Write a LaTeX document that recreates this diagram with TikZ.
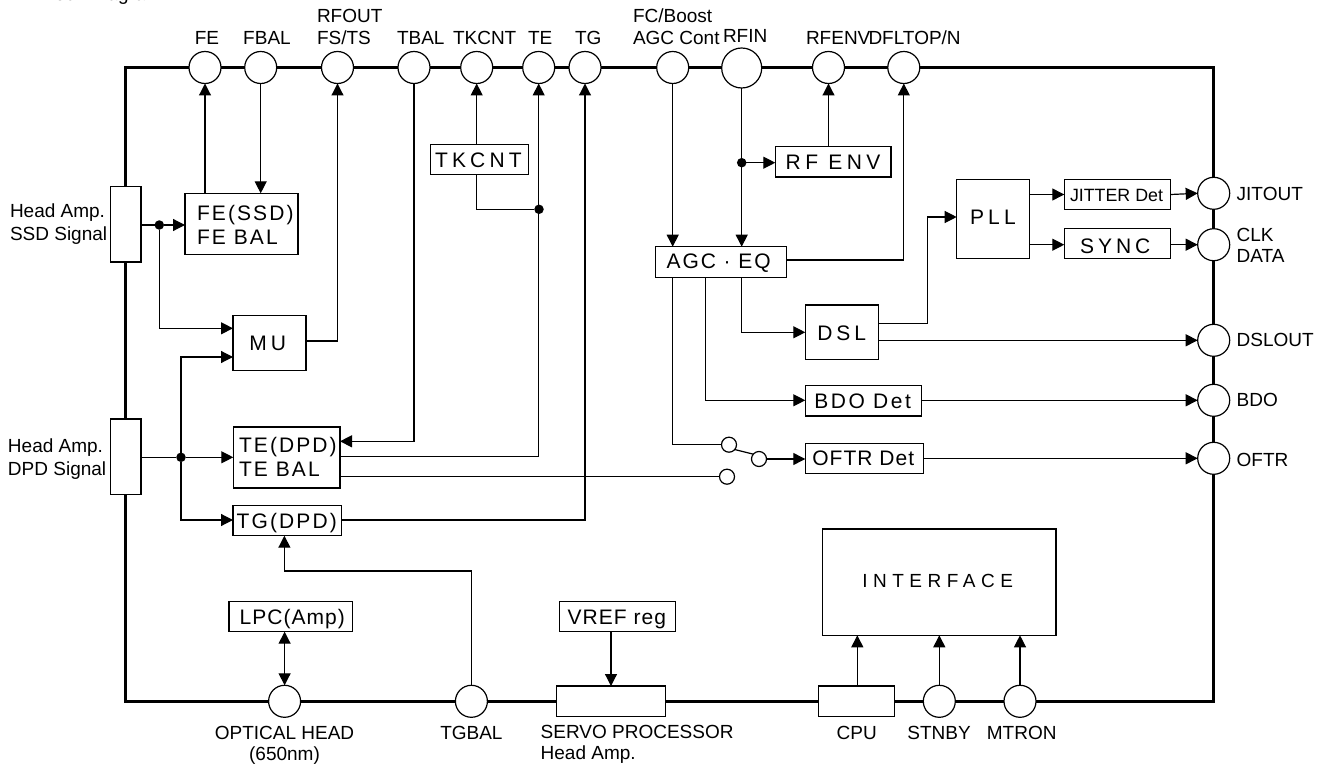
\documentclass[tikz,border=0pt]{standalone}
\usepackage{fontspec}
\setmainfont{Liberation Sans}
\usetikzlibrary{arrows.meta,calc}
\newcommand{\ls}[3]{{\fontsize{#1pt}{#1pt}\selectfont\addfontfeature{LetterSpace=#2}#3}}
\newcommand{\twolines}[3]{\vtop{\baselineskip=#1pt\hbox{#2}\hbox{#3}}}
\newcommand{\bx}[8]{%
  \pgfmathsetmacro\bW{#4-(#2)}\pgfmathsetmacro\bH{#7-(#3)}\pgfmathsetmacro\bD{#5-(#7)}\pgfmathsetmacro\bO{#6-(#2)}%
  \node[blk,text height=\bH pt,text depth=\bD pt] (#1) at (#2,#3) {\makebox[\bW pt][l]{\hspace*{\bO pt}#8}};}
\newcommand{\pin}[3]{\node[pinc] (#1) at (#2,#3) {};}
\newcommand{\lab}[5]{\node[lbl,anchor=#4] (#1) at (#2,#3) {#5};}
\tikzset{
  blk/.style={draw=black,fill=white,line width=1.2pt,inner sep=0pt,outer sep=0pt,anchor=north west},
  pinc/.style={circle,draw=black,fill=white,line width=1.2pt,inner sep=0pt,outer sep=0pt,minimum size=32pt},
  contact/.style={circle,draw=black,fill=white,line width=1.2pt,inner sep=0pt,outer sep=0pt,minimum size=15pt},
  dot/.style={circle,fill=black,inner sep=0pt,outer sep=0pt,minimum size=9.5pt},
  lbl/.style={inner sep=0pt,outer sep=0pt,font=\fontsize{19pt}{21pt}\selectfont},
  wire/.style={line width=1.2pt,line join=miter},
  arr/.style={wire,-{Triangle[length=12pt,width=12pt]}},
  darr/.style={wire,{Triangle[length=12pt,width=12pt]}-{Triangle[length=12pt,width=12pt]}},
  frame/.style={line width=3pt,line join=miter},
}
\begin{document}
\begin{tikzpicture}[x=1pt,y=-1pt]
\useasboundingbox (0,0) rectangle (1323,765);
\node[lbl,anchor=base west] (title) at (38,0.5) {Block Diagram};
\draw[frame] (125,68) rectangle (1213.5,701.5);
% top pins
\pin{FE}{205}{67.5}\pin{FBAL}{260.7}{67.5}\pin{RFOUT}{337.5}{67.5}\pin{TBAL}{414}{67.5}
\pin{TKCNT}{476.7}{67.5}\pin{TE}{538.7}{67.5}\pin{TG}{585}{67.5}\pin{FC}{672.7}{67.5}
\node[pinc,minimum size=40pt] (RFIN) at (741.7,68) {};
\pin{RFENV}{828.5}{67.5}\pin{DFL}{903.8}{67.5}
% right pins
\pin{JIT}{1213.7}{193.3}\pin{CLK}{1213.7}{244.7}\pin{DSLO}{1213.7}{340.3}\pin{BDO}{1213.7}{400.3}\pin{OFTR}{1213.7}{458.3}
% bottom pins
\pin{OPT}{284.6}{701.3}\pin{TGBAL}{471.4}{701.3}\pin{STNBY}{939.3}{701.3}\pin{MTRON}{1020}{701.3}
% edge boxes
\bx{hSSD}{110.5}{186.5}{141}{262}{112}{230}{}
\bx{hDPD}{110.5}{419}{141}{494.7}{112}{460}{}
\bx{servo}{556.4}{686}{665.7}{716.7}{560}{705}{}
\bx{cpu}{818.3}{686}{894.7}{716.7}{820}{705}{}
% blocks
\bx{feb}{185}{193.3}{298}{254.3}{197}{220}{\twolines{24.7}{\ls{21}{10}{FE(SSD)}}{\ls{21}{10}{FE BAL}}}
\bx{mub}{233}{315.3}{306}{370.3}{249.3}{350}{\ls{21}{19}{MU}}
\bx{teb}{233.3}{427}{340}{488}{239}{452.3}{\twolines{24.4}{\ls{21}{10}{TE(DPD)}}{\ls{21}{10}{TE BAL}}}
\bx{tgb}{233}{505.3}{341.7}{535.7}{236.7}{528}{\ls{21}{10}{TG(DPD)}}
\bx{tkb}{430.3}{144.3}{528.3}{174.7}{435}{167.7}{\ls{21}{20}{TKCNT}}
\bx{rfb}{775.3}{146.3}{891}{177}{785.7}{169}{\ls{21}{21}{RF ENV}}
\bx{agc}{655.3}{246.7}{786.3}{277.3}{666.7}{268.7}{\ls{21}{9}{AGC · EQ}}
\bx{pll}{956.7}{179.7}{1029.7}{258.7}{970}{224.7}{\ls{21}{20}{PLL}}
\bx{jit}{1064.3}{179.3}{1170.7}{209.7}{1070}{201.7}{\ls{17.8}{0}{JITTER Det}}
\bx{syn}{1064.3}{228.3}{1170.7}{258.7}{1080}{253}{\ls{21}{19}{SYNC}}
\bx{dsl}{805.3}{305}{878.3}{359.7}{817.3}{340}{\ls{21}{19}{DSL}}
\bx{bdo}{805.3}{385.7}{921.3}{416}{814.3}{408}{\ls{21}{12}{BDO Det}}
\bx{oft}{805.3}{443.3}{923.7}{473.7}{812.3}{465.7}{\ls{21}{5}{OFTR Det}}
\bx{lpc}{229}{601.3}{352.5}{631.7}{239.6}{624}{\ls{21}{5}{LPC(Amp)}}
\bx{vref}{559.3}{601.3}{675.4}{631.7}{567.5}{624}{\ls{21}{5}{VREF reg}}
\bx{intf}{822.7}{529}{1056}{635.3}{862.3}{587}{\ls{19}{29}{INTERFACE}}
% switch contacts
\node[contact] (swA) at (729,444.7) {};
\node[contact] (swB) at (759,459) {};
\node[contact] (swC) at (727,476.7) {};
% dots
\node[dot] (d1) at (159.3,225) {};
\node[dot] (d2) at (181,457.3) {};
\node[dot] (d3) at (539,209.3) {};
\node[dot] (d4) at (741.7,162.7) {};
% port coordinates
\coordinate (muA) at (233,328.3);
\coordinate (muB) at (233,357);
\coordinate (muO) at (306,341);
\coordinate (teA) at (340,441.3);
\coordinate (teB) at (340,456.7);
\coordinate (teC) at (340,476.7);
\coordinate (tgI) at (233,520);
\coordinate (tgO) at (341.7,520);
\coordinate (agcR) at (786.3,260);
\coordinate (dslA) at (878.3,323.7);
\coordinate (dslB) at (878.3,340.3);
\coordinate (pllI) at (956.7,217);
\coordinate (bdoI) at (805.3,400.3);
\coordinate (dslI) at (805.3,332.3);
\coordinate (tgbalC) at (284.4,571);
\coordinate (tgbalB) at (284.4,535.7);
% connectors
\draw[arr] (FE |- feb.north) -- (FE.south);
\draw[arr] (FBAL.south) -- (FBAL |- feb.north);
\draw[wire] (hSSD.east |- d1) -- (d1);
\draw[arr] (d1) -- (feb.west |- d1);
\draw[arr] (d1) |- (muA);
\draw[wire] (hDPD.east |- d2) -- (d2);
\draw[arr] (d2) -- (teb.west |- d2);
\draw[arr] (d2) |- (muB);
\draw[arr] (d2) |- (tgI);
\draw[arr] (muO) -| (RFOUT.south);
\draw[arr] (TBAL.south) |- (teA);
\draw[arr] (tkb.north -| TKCNT) -- (TKCNT.south);
\draw[wire] (tkb.south -| TKCNT) |- (d3);
\draw[arr] (teB) -| (TE.south);
\draw[wire] (teC) -- (swC.west);
\draw[arr] (tgO) -| (TG.south);
\draw[arr] (TGBAL.north) |- (tgbalC) -- (tgbalB);
\draw[darr] (lpc.south -| OPT) -- (OPT.north);
\draw[arr] (vref.south -| 611,0) -- (servo.north -| 611,0);
\draw[arr] (FC.south) -- (FC |- agc.north);
\draw[arr] (RFIN.south) -- (RFIN |- agc.north);
\draw[arr] (d4) -- (rfb.west |- d4);
\draw[arr] (rfb.north -| RFENV) -- (RFENV.south);
\draw[arr] (agcR) -| (DFL.south);
\draw[wire] (agc.south -| FC) |- (swA.west);
\draw[wire] (swA.-40) -- (swB.140);
\draw[arr] (swB.east) -- (oft.west |- swB);
\draw[arr] (agc.south -| 705.8,0) |- (bdoI);
\draw[arr] (agc.south -| RFIN) |- (dslI);
\draw[arr] (dslA) -| (927.3,217) -- (pllI);
\draw[arr] (dslB) -- (DSLO.west);
\draw[arr] (pll.east |- jit) -- (jit.west);
\draw[arr] (jit.east) -- (JIT.west);
\draw[arr] (pll.east |- CLK) -- (syn.west |- CLK);
\draw[arr] (syn.east |- CLK) -- (CLK.west);
\draw[arr] (bdo.east |- BDO) -- (BDO.west);
\draw[arr] (oft.east |- OFTR) -- (OFTR.west);
\draw[arr] (cpu.north -| 857.3,0) -- (intf.south -| 857.3,0);
\draw[arr] (STNBY.north) -- (STNBY |- intf.south);
\draw[arr] (MTRON.north) -- (MTRON |- intf.south);
% labels
\lab{lFE}{207}{45}{base}{FE}
\lab{lFBAL}{267}{45}{base}{FBAL}
\lab{lRFOUT}{317}{23}{base west}{\twolines{22}{RFOUT}{FS/TS}}
\lab{lTBAL}{397}{45}{base west}{TBAL}
\lab{lTKCNT}{453}{45}{base west}{TKCNT}
\lab{lTE}{528}{45}{base west}{TE}
\lab{lTG}{575}{45}{base west}{TG}
\lab{lFC}{633}{23}{base west}{\twolines{22}{FC/Boost}{AGC Cont}}
\lab{lRFIN}{723}{43}{base west}{RFIN}
\lab{lRFENV}{806}{45}{base west}{RFENV}
\lab{lDFL}{868.5}{45}{base west}{DFLTOP/N}
\lab{lSSD}{10}{218}{base west}{\twolines{23}{Head Amp.}{SSD Signal}}
\lab{lDPD}{8}{452}{base west}{\twolines{23}{Head Amp.}{DPD Signal}}
\lab{lJIT}{1236.7}{200.7}{base west}{JITOUT}
\lab{lCLK}{1236.7}{241.7}{base west}{\twolines{21}{CLK}{DATA}}
\lab{lDSLO}{1236.7}{346.7}{base west}{DSLOUT}
\lab{lBDO}{1236.7}{406.7}{base west}{BDO}
\lab{lOFTR}{1236.7}{466.7}{base west}{OFTR}
\lab{lOPT}{284.5}{739}{base}{\twolines{21}{\hbox to 150pt{\hfil OPTICAL HEAD\hfil}}{\hbox to 150pt{\hfil (650nm)\hfil}}}
\lab{lTGB}{471.4}{739}{base}{TGBAL}
\lab{lSERVO}{540.7}{738}{base west}{\twolines{21}{SERVO PROCESSOR}{Head Amp.}}
\lab{lCPU}{856.7}{739}{base}{CPU}
\lab{lSTN}{939}{739}{base}{STNBY}
\lab{lMTR}{1021.7}{739}{base}{MTRON}
\end{tikzpicture}
\end{document}
